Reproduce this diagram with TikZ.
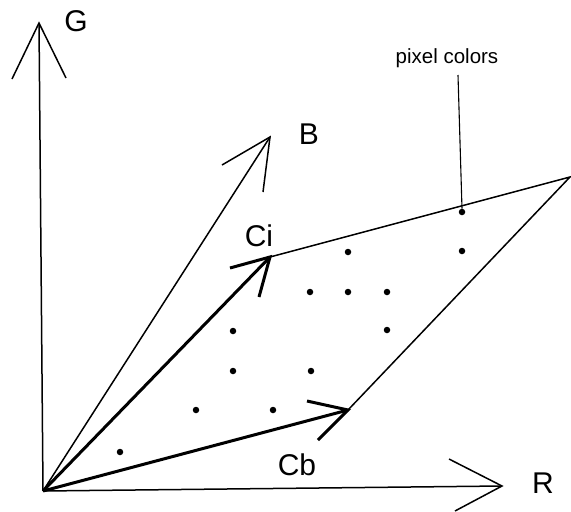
\documentclass[tikz,border=0pt]{standalone}
\usepackage{fontspec}
\setmainfont{Liberation Sans}
\begin{document}
\begin{tikzpicture}[x=1pt,y=-1pt,
  thinline/.style={line width=1.5pt,line join=miter},
  thickline/.style={line width=3pt,line join=miter},
  dot/.style={circle,fill=black,inner sep=0pt,minimum size=6.5pt},
  biglabel/.style={font=\fontsize{30}{33}\selectfont,inner sep=0pt},
  smalllabel/.style={font=\fontsize{20.5}{23}\selectfont,inner sep=0pt}]
\useasboundingbox (0,0) rectangle (571,512);
% key points
\coordinate (O) at (43,491);
\coordinate (Gt) at (39,23);
\coordinate (Bt) at (270,137);
\coordinate (Rt) at (502,486);
\coordinate (Ci) at (270,257);
\coordinate (Cb) at (348,410);
\coordinate (P) at (570,177);
% wings
\coordinate (G1) at (12,79);
\coordinate (G2) at (66,78);
\coordinate (B1) at (222,165);
\coordinate (B2) at (263,192);
\coordinate (R1) at (449,459);
\coordinate (R2) at (455,511);
\coordinate (Ci1) at (230,268);
\coordinate (Ci2) at (259,297);
\coordinate (Cb1) at (307,401);
\coordinate (Cb2) at (318,440);
% axes
\draw[thinline] (O) -- (Gt);
\draw[thinline] (G1) -- (Gt) -- (G2);
\draw[thinline] (O) -- (Bt);
\draw[thinline] (B1) -- (Bt) -- (B2);
\draw[thinline] (O) -- (Rt);
\draw[thinline] (R1) -- (Rt) -- (R2);
% parallelogram edges
\draw[thinline] (Ci) -- (P) -- (Cb);
% vectors
\draw[thickline] (O) -- (Ci);
\draw[thickline] (Ci1) -- (Ci) -- (Ci2);
\draw[thickline] (O) -- (Cb);
\draw[thickline] (Cb1) -- (Cb) -- (Cb2);
% labels
\node[biglabel] (lG) at (76,21) {G};
\node[biglabel] (lB) at (309,134) {B};
\node[biglabel] (lR) at (543,483) {R};
\node[biglabel] (lCi) at (259,236) {Ci};
\node[biglabel] (lCb) at (297,465) {Cb};
\node[smalllabel,anchor=base] (lpix) at (447,63) {pixel colors};
% dots
\node[dot] (d1) at (462,212) {};
\node[dot] (d2) at (462,251) {};
\node[dot] (d3) at (348,252) {};
\node[dot] (d4) at (310,292) {};
\node[dot] (d5) at (348,292) {};
\node[dot] (d6) at (387,292) {};
\node[dot] (d7) at (387,330) {};
\node[dot] (d8) at (233,331) {};
\node[dot] (d9) at (233,371) {};
\node[dot] (d10) at (311,371) {};
\node[dot] (d11) at (196,410) {};
\node[dot] (d12) at (273,410) {};
\node[dot] (d13) at (120,452) {};
% leader
\coordinate (Lt) at (458,75);
\draw[line width=1.1pt] (Lt) -- (d1.north);
\end{tikzpicture}
\end{document}
